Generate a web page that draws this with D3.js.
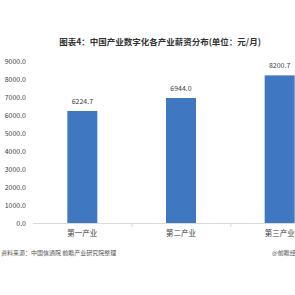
<!DOCTYPE html>
<html>
<head>
<meta charset="utf-8">
<script src="https://cdn.jsdelivr.net/npm/d3@7"></script>
<style>
    body { margin: 0; background: #fff; font-family: "Noto Sans CJK SC", "DejaVu Sans", sans-serif; }
    text { fill: #404040; }
</style>
</head>
<body>
<div id="chart"></div>
<script>
var categories = ["第一产业", "第二产业", "第三产业"];
var salaries = [6224.7, 6944.0, 8200.7];
var yTicks = [0, 1000, 2000, 3000, 4000, 5000, 6000, 7000, 8000, 9000];

var W = 295, H = 295;
var svg = d3.select("#chart").append("svg")
    .attr("width", W).attr("height", H);

var x = d3.scaleBand().domain(categories).range([33, 329]).paddingInner(0).paddingOuter(0);
var y = d3.scaleLinear().domain([0, 9000]).range([223, 61]);
var barW = 30;

// title
svg.append("text")
    .attr("x", 160).attr("y", 45)
    .attr("text-anchor", "middle")
    .style("font-size", "8.5px").style("font-weight", "bold")
    .style("fill", "#333")
    .text("图表4：中国产业数字化各产业薪资分布(单位：元/月)");

// y labels
svg.selectAll(".ylab").data(yTicks).enter().append("text")
    .attr("class", "ylab")
    .attr("x", 26).attr("y", function (d) { return y(d) + 2.5; })
    .attr("text-anchor", "end")
    .style("font-size", "7px")
    .text(function (d) { return d3.format(".1f")(d); });

// bars
svg.selectAll(".bar").data(salaries).enter().append("rect")
    .attr("class", "bar")
    .attr("x", function (d, i) { return x(categories[i]) + x.bandwidth() / 2 - barW / 2; })
    .attr("y", function (d) { return y(d); })
    .attr("width", barW)
    .attr("height", function (d) { return y(0) - y(d); })
    .attr("fill", "#3f78c1");

// value labels
svg.selectAll(".val").data(salaries).enter().append("text")
    .attr("class", "val")
    .attr("x", function (d, i) { return x(categories[i]) + x.bandwidth() / 2; })
    .attr("y", function (d) { return y(d) - 7; })
    .attr("text-anchor", "middle")
    .style("font-size", "7px")
    .text(function (d) { return d3.format(".1f")(d); });

// x axis line and ticks
svg.append("line")
    .attr("x1", 33).attr("x2", 329)
    .attr("y1", y(0) + 0.5).attr("y2", y(0) + 0.5)
    .attr("stroke", "#d9d9d9");
svg.selectAll(".xtick").data(categories.slice(1)).enter().append("line")
    .attr("class", "xtick")
    .attr("x1", function (d) { return x(d) + 0.5; })
    .attr("x2", function (d) { return x(d) + 0.5; })
    .attr("y1", y(0)).attr("y2", y(0) + 4)
    .attr("stroke", "#d9d9d9");

// category labels
svg.selectAll(".xlab").data(categories).enter().append("text")
    .attr("class", "xlab")
    .attr("x", function (d) { return x(d) + x.bandwidth() / 2; })
    .attr("y", 236)
    .attr("text-anchor", "middle")
    .style("font-size", "7.5px")
    .text(function (d) { return d; });

// footer
svg.append("text")
    .attr("x", 1).attr("y", 255)
    .style("font-size", "6px").style("fill", "#555")
    .text("资料来源：中国信通院 前瞻产业研究院整理");
svg.append("text")
    .attr("x", 272).attr("y", 255)
    .style("font-size", "6px").style("fill", "#555")
    .text("@前瞻经济学人APP");
</script>
</body>
</html>
